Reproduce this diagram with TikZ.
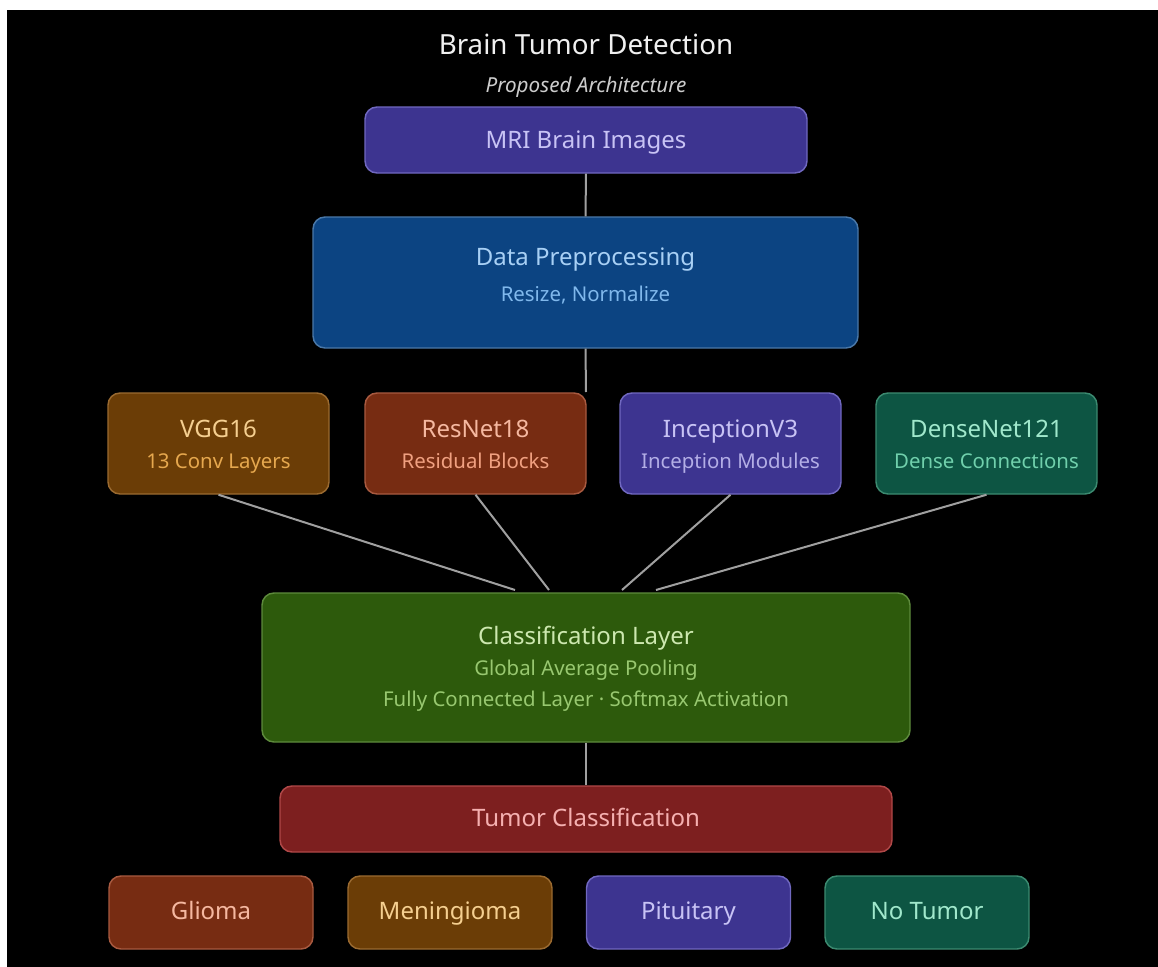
\documentclass[tikz,border=0pt]{standalone}
\usepackage{fontspec}
\setmainfont{Noto Sans}
\usetikzlibrary{calc}
\definecolor{indFill}{HTML}{3D3490}\definecolor{indLine}{HTML}{7068C0}\definecolor{indText}{HTML}{C8C3F5}
\definecolor{bluFill}{HTML}{0C4482}\definecolor{bluLine}{HTML}{4A78A8}\definecolor{bluText}{HTML}{A8D0F5}\definecolor{bluSub}{HTML}{80B8EC}
\definecolor{orgFill}{HTML}{6B3D06}\definecolor{orgLine}{HTML}{9A6A30}\definecolor{orgText}{HTML}{F5CF90}\definecolor{orgSub}{HTML}{E6A84E}
\definecolor{redFill}{HTML}{772C12}\definecolor{redLine}{HTML}{A85A40}\definecolor{redText}{HTML}{F5B8A0}\definecolor{redSub}{HTML}{F0A080}
\definecolor{grnFill}{HTML}{0D5543}\definecolor{grnLine}{HTML}{3C8A70}\definecolor{grnText}{HTML}{A0E8CC}\definecolor{grnSub}{HTML}{70D0AC}
\definecolor{clsFill}{HTML}{2D5A0C}\definecolor{clsLine}{HTML}{5D8A3C}\definecolor{clsText}{HTML}{CDE8B0}\definecolor{clsSub}{HTML}{98C870}
\definecolor{tcFill}{HTML}{7D1F1F}\definecolor{tcLine}{HTML}{B04848}\definecolor{tcText}{HTML}{F5B0B0}
\definecolor{conn}{HTML}{A0A0A0}
\tikzset{
  box/.style={draw, line width=1.1pt, rounded corners=9pt, inner sep=0pt},
  ind/.style={box, fill=indFill, draw=indLine},
  blu/.style={box, fill=bluFill, draw=bluLine},
  org/.style={box, fill=orgFill, draw=orgLine},
  rdb/.style={box, fill=redFill, draw=redLine},
  grn/.style={box, fill=grnFill, draw=grnLine},
  clsbox/.style={box, fill=clsFill, draw=clsLine},
  tcbox/.style={box, fill=tcFill, draw=tcLine},
  ttl/.style={anchor=base, inner sep=0pt, font=\fontsize{18}{20}\selectfont},
  sub/.style={anchor=base, inner sep=0pt, font=\fontsize{15.3}{17}\selectfont},
  link/.style={draw=conn, line width=1.5pt}
}
\begin{document}
\begin{tikzpicture}[x=0.75pt,y=-0.75pt]
\useasboundingbox (0,0) rectangle (1158,967);
\fill[white] (0,0) rectangle (1158,967);
\fill[black] (7,10) rectangle (1158,967);

% title
\node[anchor=base, inner sep=0pt, text=white!94!black, font=\fontsize{20.8}{22}\selectfont] (title) at (586,55) {Brain Tumor Detection};
\node[anchor=base, inner sep=0pt, text=white!80!black, font=\fontsize{15.5}{17}\selectfont\itshape] (subtitle) at (586,92) {Proposed Architecture};

% boxes
\node[ind, minimum width=442*0.75pt, minimum height=66*0.75pt] (mri) at (586,140) {};
\node[blu, minimum width=545*0.75pt, minimum height=131*0.75pt] (dp) at (585.5,282.5) {};
\node[org, minimum width=221*0.75pt, minimum height=101*0.75pt] (vgg) at (218.5,443.5) {};
\node[rdb, minimum width=221*0.75pt, minimum height=101*0.75pt] (res) at (475.5,443.5) {};
\node[ind, minimum width=221*0.75pt, minimum height=101*0.75pt] (inc) at (730.5,443.5) {};
\node[grn, minimum width=221*0.75pt, minimum height=101*0.75pt] (den) at (986.5,443.5) {};
\node[clsbox, minimum width=648*0.75pt, minimum height=149*0.75pt] (cls) at (586,667.5) {};
\node[tcbox, minimum width=612*0.75pt, minimum height=66*0.75pt] (tc) at (586,819) {};
\node[rdb, minimum width=204*0.75pt, minimum height=73*0.75pt] (gli) at (211,912.5) {};
\node[org, minimum width=204*0.75pt, minimum height=73*0.75pt] (men) at (450,912.5) {};
\node[ind, minimum width=204*0.75pt, minimum height=73*0.75pt] (pit) at (688.5,912.5) {};
\node[grn, minimum width=204*0.75pt, minimum height=73*0.75pt] (not) at (927,912.5) {};

% texts
\node[ttl, text=indText] (mriT) at (586,148) {MRI Brain Images};
\node[ttl, text=bluText] (dpT) at (585.5,265) {Data Preprocessing};
\node[sub, text=bluSub] (dpS) at (585.5,301) {Resize, Normalize};
\node[ttl, text=orgText] (vggT) at (218.5,437) {VGG16};
\node[sub, text=orgSub] (vggS) at (218.5,468) {13 Conv Layers};
\node[ttl, text=redText] (resT) at (475.5,437) {ResNet18};
\node[sub, text=redSub] (resS) at (475.5,468) {Residual Blocks};
\node[ttl, text=indText] (incT) at (730.5,437) {InceptionV3};
\node[sub, text=indText!85!indFill] (incS) at (730.5,468) {Inception Modules};
\node[ttl, text=grnText] (denT) at (986.5,437) {DenseNet121};
\node[sub, text=grnSub] (denS) at (986.5,468) {Dense Connections};
\node[ttl, text=clsText] (clsT) at (586,644) {Classification Layer};
\node[sub, text=clsSub] (clsS1) at (586,675) {Global Average Pooling};
\node[sub, text=clsSub] (clsS2) at (586,706) {Fully Connected Layer · Softmax Activation};
\node[ttl, text=tcText] (tcT) at (586,826) {Tumor Classification};
\node[ttl, text=redText] (gliT) at (211,919) {Glioma};
\node[ttl, text=orgText] (menT) at (450,919) {Meningioma};
\node[ttl, text=indText] (pitT) at (688.5,919) {Pituitary};
\node[ttl, text=grnText] (notT) at (927,919) {No Tumor};

% connectors
\coordinate (dpEnd) at (586,392);
\coordinate (c1) at (515,590);
\coordinate (c2) at (549,590);
\coordinate (c3) at (622,590);
\coordinate (c4) at (656,590);
\draw[link] (mri.south) -- (dp.north);
\draw[link] (dp.south) -- (dpEnd);
\draw[link] (vgg.south) -- (c1);
\draw[link] (res.south) -- (c2);
\draw[link] (inc.south) -- (c3);
\draw[link] (den.south) -- (c4);
\draw[link] (cls.south) -- (tc.north);
\end{tikzpicture}
\end{document}
